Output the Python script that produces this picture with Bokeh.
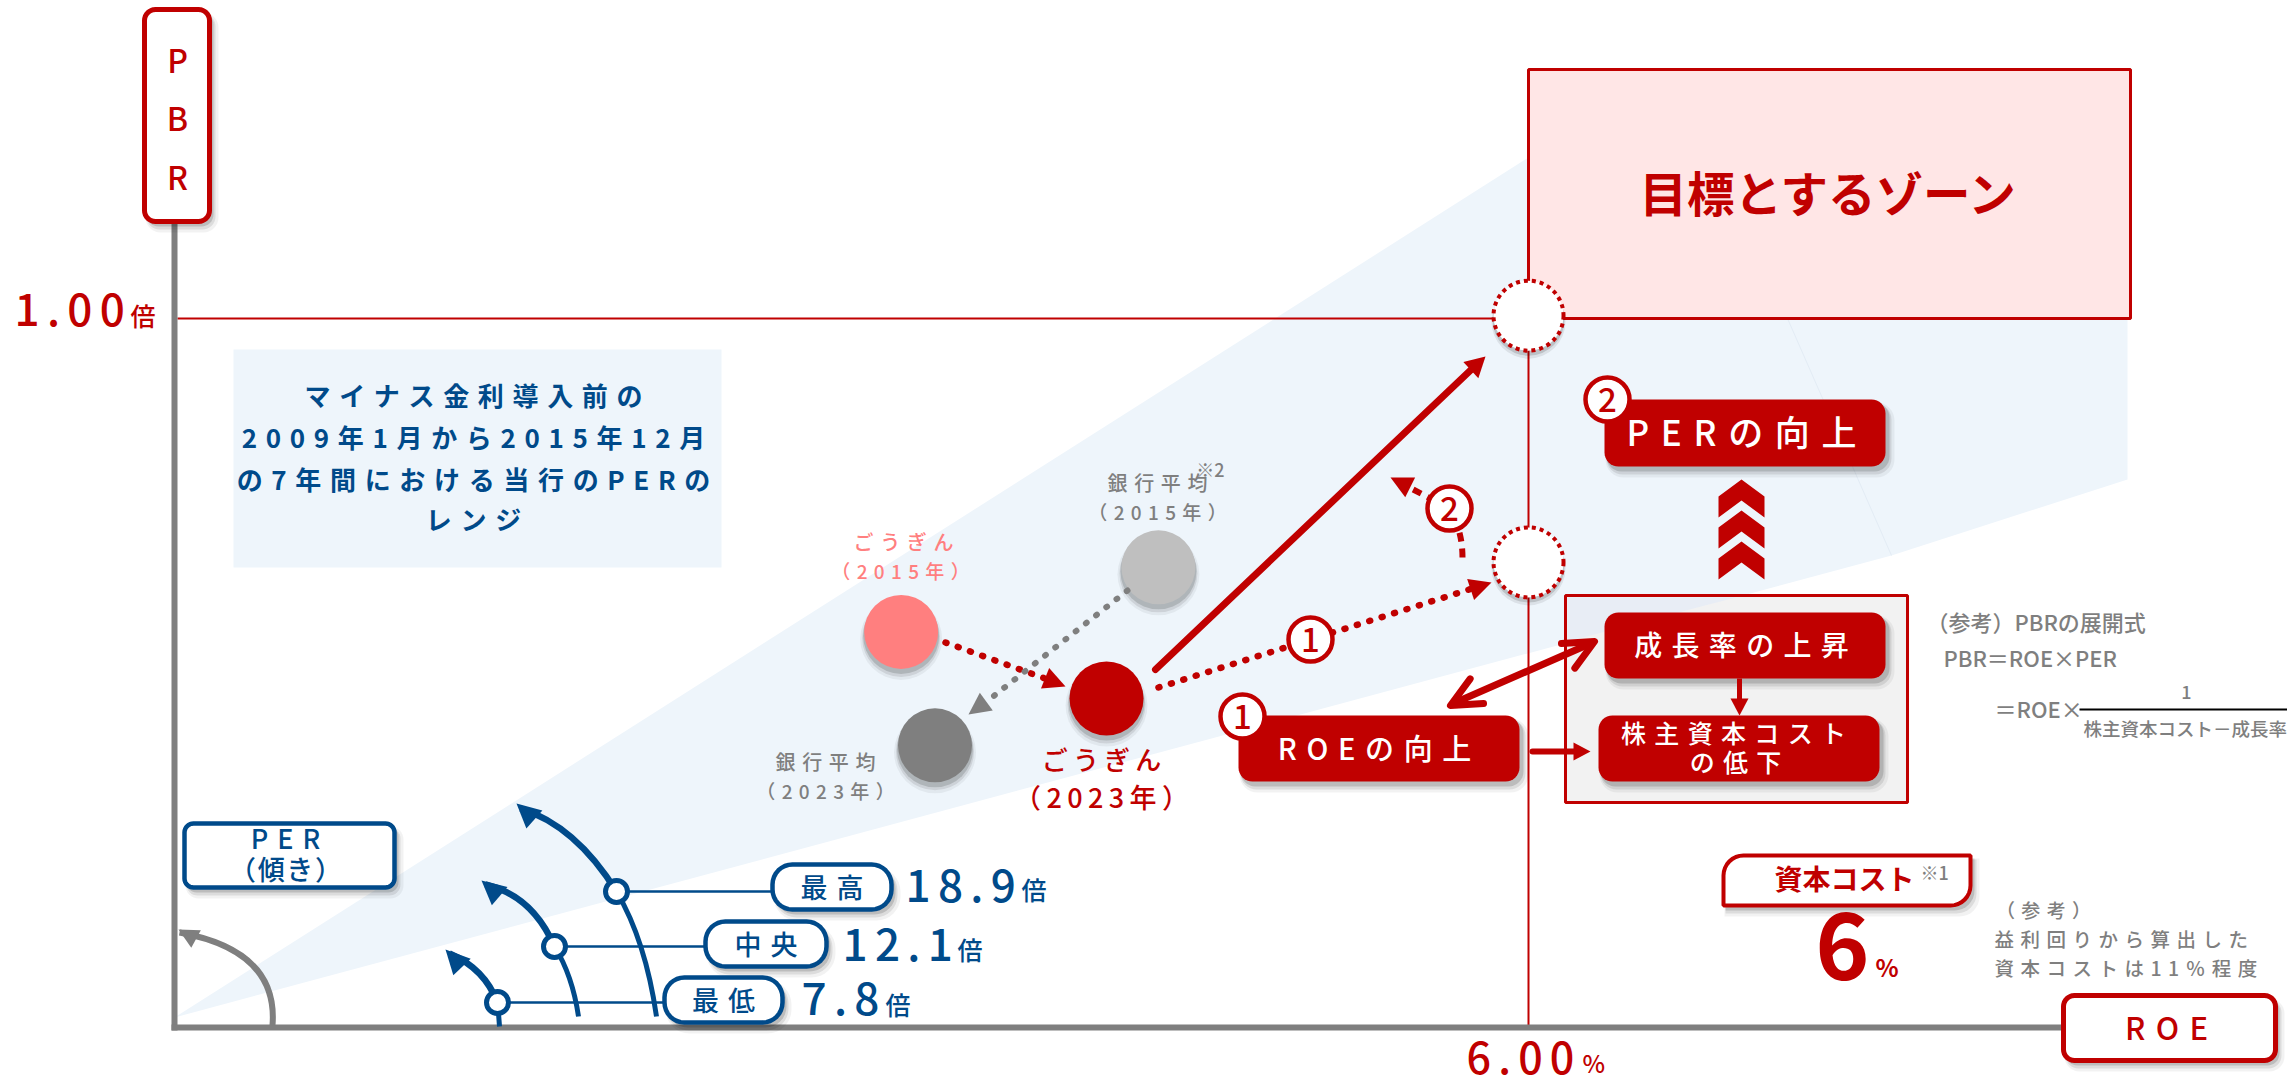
import math
from bokeh.plotting import figure
from bokeh.models import Range1d
from bokeh.core.properties import value
from bokeh.embed import file_html
from bokeh.resources import INLINE

# ---------- data ----------
per_labels = ["最高", "中央", "最低"]
per_values = ["18.9", "12.1", "7.8"]
bubble_names = ["ごうぎん2015", "銀行平均2015", "ごうぎん2023", "銀行平均2023"]
bubble_roe = [3.22, 4.36, 4.13, 3.37]
bubble_pbr = [0.558, 0.649, 0.464, 0.398]
target_roe = [6.00, 6.00]
target_pbr = [1.004, 0.656]
range_note = ["マイナス金利導入前の", "2009年1月から2015年12月", "の7年間における当行のPERの", "レンジ"]

RED = "#C00000"; BLUE = "#004A8A"; GREY = "#7F7F7F"; PALE = "#EEF5FB"
FONT = "Noto Sans CJK JP"; MED = "Noto Sans CJK JP Medium"
S1 = "\u200a"; S2 = "\u2009"; S3 = "\u2004"; S6 = "\u2006"
def sp(s, g=S3):
    return g.join(list(s))

W, H = 2287, 1081
X0, Y0, XPX, YPX = 174.0, 1027.0, 225.67, 709.0
p = figure(width=W, height=H, x_range=Range1d(0, W), y_range=Range1d(H, 0),
           x_axis_type=None, y_axis_type=None, toolbar_location=None, output_backend="svg",
           min_border=0, outline_line_color=None, background_fill_color="white", border_fill_color="white")
p.grid.visible = False
p.extra_x_ranges = {"roe": Range1d((0 - X0) / XPX, (W - X0) / XPX)}
p.extra_y_ranges = {"pbr": Range1d((Y0 - H) / YPX, (Y0 - 0) / YPX)}

# ---------- helpers ----------
def txt(x, y, s, size, color, align="center", bold=True):
    p.text([x], [y], text=[s], text_font=value(FONT if bold else MED), text_font_size=f"{size}px", text_color=color,
           text_align=align, text_baseline="middle", text_font_style="bold" if bold else "normal")

def rr_pts(l, t, r, b, rad):
    if not isinstance(rad, (list, tuple)):
        rad = [rad] * 4
    xs, ys = [], []
    corners = [(l + rad[0], t + rad[0], rad[0], 180), (r - rad[1], t + rad[1], rad[1], 270),
               (r - rad[2], b - rad[2], rad[2], 0), (l + rad[3], b - rad[3], rad[3], 90)]
    for cx, cy, ra, a0 in corners:
        for k in range(9):
            a = math.radians(a0 + k * 90 / 8)
            xs.append(cx + ra * math.cos(a)); ys.append(cy + ra * math.sin(a))
    return xs, ys

def shadow_box(l, t, r, b, rad):
    for dx, dy, g, al in [(3, 4, 1, .14), (4, 6, 2, .09), (5, 7, 4, .05)]:
        xs, ys = rr_pts(l + dx - g, t + dy - g, r + dx + g, b + dy + g, rad if isinstance(rad, (list, tuple)) else rad + g)
        p.patch(xs, ys, fill_color="black", fill_alpha=al, line_color=None)

def box(l, t, r, b, rad, fill, line=None, lw=0, shadow=True):
    if shadow:
        shadow_box(l, t, r, b, rad)
    xs, ys = rr_pts(l, t, r, b, rad)
    p.patch(xs, ys, fill_color=fill, line_color=line, line_width=lw)

def head(tx, ty, fx, fy, length, half, color):
    d = math.hypot(tx - fx, ty - fy); ux, uy = (tx - fx) / d, (ty - fy) / d
    bx, by = tx - ux * length, ty - uy * length
    p.patch([tx, bx - uy * half, bx + uy * half], [ty, by + ux * half, by - ux * half],
            fill_color=color, line_color=None)

def open_head(tx, ty, fx, fy, length, half, color, lw):
    d = math.hypot(tx - fx, ty - fy); ux, uy = (tx - fx) / d, (ty - fy) / d
    bx, by = tx - ux * length, ty - uy * length
    p.line([bx - uy * half, tx, bx + uy * half], [by + ux * half, ty, by - ux * half],
           line_color=color, line_width=lw, line_cap="round", line_join="round")

def badge(x, y, s):
    p.scatter([x], [y], size=44, marker="circle", fill_color="white", line_color=RED, line_width=4.5)
    txt(x, y, s, 33, RED, bold=False)

# ---------- background wedge ----------
p.patch([X0, 1528, 2127, 2127, 1891], [1017, 157, 200, 479, 555], fill_color=PALE, line_color=None)
p.line([1787, 1891], [318, 555], line_color="#E3ECF5", line_width=1)

# ---------- target zone and reference lines ----------
p.quad(left=[1528], right=[2130], top=[69], bottom=[318], fill_color="#FFE6E6", line_color=RED, line_width=3)
p.segment([177], [318], [1528], [318], line_color=RED, line_width=2)
p.segment([1528], [318], [1528], [1027], line_color=RED, line_width=2)
txt(1829, 191, "目標とするゾーン", 47.5, RED)

# ---------- axes ----------
p.segment([174], [221], [174], [1030], line_color=GREY, line_width=6)
p.segment([171], [1027], [2065], [1027], line_color=GREY, line_width=6)
box(144, 9, 209, 221, 11, "white", RED, 5)
for ch, yy in zip("PBR", [58, 116, 175]):
    txt(177, yy, ch, 32, RED, bold=False)
box(2063, 995, 2275, 1060, 11, "white", RED, 5)
txt(2166, 1026, sp("ROE", S3), 31, RED, bold=False)
txt(14, 306, sp("1.00", S6), 44, RED, align="left", bold=False)
txt(130, 314, "倍", 25, RED, align="left", bold=False)
txt(1466, 1054, sp("6.00", S6), 43, RED, align="left", bold=False)
txt(1582, 1062, "%", 24, RED, align="left", bold=False)

# ---------- note box ----------
p.quad(left=[233], right=[721], top=[349], bottom=[567], fill_color=PALE, line_color=None)
for s, yy in zip(range_note, [394, 436, 478, 518]):
    txt(473, yy, sp(s, S3), 26, BLUE)

# ---------- PER arcs ----------
p.quadratic([272], [1025], [179], [932], [278], [950], line_color=GREY, line_width=6)
head(178, 929, 200, 941, 20, 10, GREY)
arcs = [
    (656, 1016, 645, 940, 616, 891, 575, 825, 520, 808, 516, 803),
    (578, 1016, 572, 975, 554, 946, 532, 895, 485, 884, 481, 880),
    (499, 1026, 498, 1012, 497, 1002, 484, 968, 449, 953, 445, 949),
]
for a in arcs:
    p.quadratic([a[0]], [a[1]], [a[4]], [a[5]], [a[2]], [a[3]], line_color=BLUE, line_width=5)
    p.quadratic([a[4]], [a[5]], [a[8]], [a[9]], [a[6]], [a[7]], line_color=BLUE, line_width=6.5)
    head(a[10], a[11], a[8] + (a[6] - a[8]) * .25 + 6, a[9] + (a[7] - a[9]) * .25 + 12, 24, 12, BLUE)

rows = [(616, 891, 772, 891, 864, 909, 905, 882, 1021, 888),
        (554, 946, 705, 826, 921, 966, 842, 941, 957, 948),
        (497, 1002, 664, 782, 977, 1022, 801, 995, 885, 1003)]
for lab, val, r in zip(per_labels, per_values, rows):
    cx, cy, pl, pr, pt, pb, vx, vy, bx, by = r
    p.segment([cx], [cy], [pl], [cy], line_color=BLUE, line_width=2.5)
    p.scatter([cx], [cy], size=22, marker="circle", fill_color="white", line_color=BLUE, line_width=5)
    box(pl, pt, pr, pb, 20, "white", BLUE, 4.5)
    txt((pl + pr) / 2, (pt + pb) / 2 - 1, sp(lab, S3), 27, BLUE, bold=False)
    txt(vx, vy, sp(val, S6), 44, BLUE, align="left", bold=False)
    txt(bx, by, "倍", 25, BLUE, align="left", bold=False)
box(184, 823, 394, 887, 9, "white", BLUE, 4.5)
txt(285, 837, sp("PER", S3), 27, BLUE, bold=False)
txt(285, 868, sp("（傾き）", S1), 27, BLUE, bold=False)

# ---------- bubbles ----------
fills = ["#FF7F7F", "#BFBFBF", RED, GREY]
for dx, dy, g, al in [(3, 4, 2, .14), (4, 6, 4, .09), (5, 7, 8, .05)]:
    p.scatter(bubble_roe, [v - dy / YPX for v in bubble_pbr], x_range_name="roe", y_range_name="pbr",
              size=74 + g, marker="circle", fill_color="black", fill_alpha=al, line_color=None)
p.scatter(bubble_roe, bubble_pbr, x_range_name="roe", y_range_name="pbr", size=74, marker="circle",
          fill_color=fills, line_color=None)
txt(903, 541, sp("ごうぎん", S3), 20, "#FF7F7F", bold=False)
txt(900, 570, sp("（2015年）", S3), 19, "#FF7F7F", bold=False)
txt(1157, 482, sp("銀行平均", S3), 20, GREY, bold=False)
txt(1157, 511, sp("（2015年）", S3), 19, GREY, bold=False)
txt(1210, 468, "※2", 18, GREY, bold=False)
txt(825, 761, sp("銀行平均", S3), 20, GREY, bold=False)
txt(825, 790, sp("（2023年）", S3), 19, GREY, bold=False)
txt(1101, 758, sp("ごうぎん", S2), 26, RED, bold=False)
txt(1101, 796, sp("（2023年）", S2), 27, RED, bold=False)

# ---------- target circles ----------
for dx, dy, g, al in [(3, 4, 2, .14), (4, 6, 4, .08)]:
    p.scatter(target_roe, [v - dy / YPX for v in target_pbr], x_range_name="roe", y_range_name="pbr",
              size=70 + g, marker="circle", fill_color="black", fill_alpha=al, line_color=None)
p.scatter(target_roe, target_pbr, x_range_name="roe", y_range_name="pbr", size=70, marker="circle",
          fill_color="white", line_color=RED, line_width=4, line_dash="4 4")

# ---------- arrows between bubbles ----------
p.line([945, 1050], [642, 680], line_color=RED, line_width=6.5, line_dash="1 12", line_cap="round")
head(1065, 686, 1040, 676, 22, 11, RED)
p.line([1127, 985], [590, 702], line_color=GREY, line_width=6, line_dash="1 12", line_cap="round")
head(968, 714, 990, 698, 22, 11, GREY)
p.line([1158, 1475], [687, 587], line_color=RED, line_width=6.5, line_dash="1 12", line_cap="round")
head(1491, 582, 1470, 589, 22, 11, RED)
p.line([1155, 1474], [669, 366], line_color=RED, line_width=7, line_cap="round")
head(1485, 356, 1471, 369, 20, 11, RED)
p.quadratic([1462], [557], [1449], [508], [1462], [530], line_color=RED, line_width=6, line_dash="9 7")
p.line([1449, 1405], [508, 485], line_color=RED, line_width=6, line_dash="9 7")
head(1390, 477, 1410, 487, 22, 11, RED)
badge(1310, 639, "1")
badge(1449, 508, "2")

# ---------- right hand boxes ----------
p.quad(left=[1565], right=[1907], top=[595], bottom=[802], fill_color="#F2F2F2", line_color=RED, line_width=3)
p.patch([1567, 1735, 1567], [597, 597, 641], fill_color="#E8EDF5", line_color=None)

box(1238, 715, 1519, 781, 14, RED)
txt(1374, 746, sp("ROEの向上", S3), 29, "white", bold=False)
badge(1242, 716, "1")
box(1604, 399, 1885, 466, 14, RED)
txt(1741, 430, sp("PERの向上", S3), 35, "white", bold=False)
badge(1607, 399, "2")
for i in range(3):
    a = 479 + 31 * i
    p.patch([1741, 1764, 1764, 1741, 1718, 1718], [a, a + 17, a + 38, a + 21, a + 38, a + 17], fill_color=RED, line_color=None)
box(1604, 612, 1885, 678, 14, RED)
txt(1741, 643, sp("成長率の上昇", S3), 28, "white", bold=False)
box(1598, 715, 1879, 781, 14, RED)
txt(1733, 731, sp("株主資本コスト", S3), 25, "white", bold=False)
txt(1735, 760, sp("の低下", S3), 25, "white", bold=False)
p.segment([1739], [678], [1739], [700], line_color=RED, line_width=5)
head(1739, 715, 1739, 690, 17, 9, RED)
p.segment([1532], [751], [1575], [751], line_color=RED, line_width=6, line_cap="round")
head(1590, 751, 1560, 751, 17, 9, RED)
p.line([1455, 1590], [702, 643], line_color=RED, line_width=7, line_cap="round")
open_head(1594, 641, 1550, 665, 30, 14, RED, 7)
open_head(1450, 705, 1494, 681, 30, 14, RED, 7)

# ---------- formula ----------
txt(1926, 620, "（参考）PBRの展開式", 22, GREY, align="left", bold=False)
txt(1943, 656, "PBR＝ROE×PER", 22, GREY, align="left", bold=False)
txt(1994, 707, "＝ROE×", 22, GREY, align="left", bold=False)
p.segment([2079], [709], [2287], [709], line_color="black", line_width=2)
txt(2186, 691, "1", 18, GREY, bold=False)
txt(2083, 727, "株主資本コスト－成長率", 18.5, GREY, align="left", bold=False)

# ---------- capital cost ----------
box(1723, 855, 1970, 905, [20, 0, 20, 0], "white", RED, 4)
txt(1844, 877, "資本コスト", 28, RED)
txt(1920, 871, "※1", 18, GREY, align="left", bold=False)
txt(1842, 945, "6", 92, RED)
txt(1875, 966, "%", 24, RED, align="left")
txt(2043, 909, sp("（参考）", S3), 19, GREY, bold=False)
txt(1994, 938, sp("益利回りから算出した", S3), 19.5, GREY, align="left", bold=False)
txt(1994, 967, sp("資本コストは11％程度", S3), 19.5, GREY, align="left", bold=False)

open("out.html", "w").write(file_html(p, INLINE))
